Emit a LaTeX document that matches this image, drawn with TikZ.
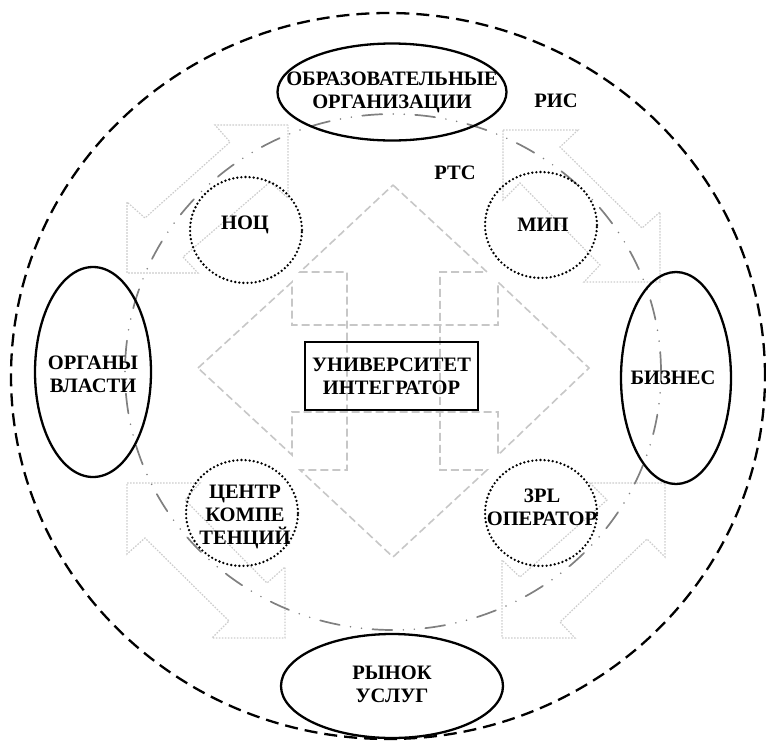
\documentclass[tikz,border=0pt]{standalone}
\usepackage{fontspec}
\setmainfont{Liberation Serif}
\usetikzlibrary{shapes.geometric}
\begin{document}
\begin{tikzpicture}[x=1pt,y=-1pt,
  lbl/.style={font=\bfseries\fontsize{20.5}{23}\selectfont, align=center, inner sep=0pt},
  actor/.style={draw, ellipse, line width=2.3pt, inner sep=0pt},
  unit/.style={draw, ellipse, line width=2.6pt, dash pattern=on 0pt off 4.1pt, line cap=round,
               inner sep=0pt, minimum width=112pt, minimum height=106pt},
  hub/.style={draw, line width=2.4pt, inner sep=0pt, minimum width=173pt, minimum height=68pt},
  outerzone/.style={draw, ellipse, line width=2.3pt, dash pattern=on 13pt off 7pt, inner sep=0pt},
  innerzone/.style={draw=black!50, ellipse, line width=1.7pt, line cap=round,
               dash pattern=on 20pt off 11pt on 0pt off 11pt on 0pt off 11pt, inner sep=0pt},
  crossarrow/.style={draw=black!22, line width=1.6pt, dash pattern=on 8pt off 4pt},
  diagarrow/.style={draw=black!20, line width=1.2pt, dash pattern=on 1.6pt off 1.4pt}
]
\useasboundingbox (0,0) rectangle (766,740);

% four-way arrow behind the hub: vertical and horizontal double arrows
\draw[crossarrow] (393,185) -- (487,272) -- (440,272) -- (440,470) -- (487,470) -- (393,557)
  -- (300,470) -- (347,470) -- (347,272) -- (300,272) -- cycle;
\draw[crossarrow] (198,368) -- (292,282) -- (292,325) -- (498,325) -- (498,282) -- (589,368)
  -- (498,455) -- (498,412) -- (292,412) -- (292,455) -- cycle;

% diagonal double arrows in the corners
\draw[diagarrow] (288,125) -- (215,125) -- (230,142) -- (145,218) -- (127,202) -- (127,273)
  -- (198,273) -- (183,257) -- (270,182) -- (288,198) -- cycle;
\draw[diagarrow] (503,130) -- (578,130) -- (560,147) -- (642,228) -- (660,212) -- (660,282)
  -- (584,282) -- (600,265) -- (520,183) -- (503,200) -- cycle;
\draw[diagarrow] (127,483) -- (200,483) -- (185,500) -- (267,583) -- (285,567) -- (285,638)
  -- (212,638) -- (229,621) -- (145,538) -- (127,554) -- cycle;
\draw[diagarrow] (665,483) -- (590,483) -- (607,500) -- (520,577) -- (502,560) -- (502,638)
  -- (575,638) -- (560,622) -- (647,539) -- (665,557) -- cycle;

% zones
\node[outerzone, minimum width=754pt, minimum height=726pt] (ris) at (388,376) {};
\node[innerzone, minimum width=536pt, minimum height=516pt] (rts) at (393,372) {};

% outer actors
\node[actor, minimum width=229pt, minimum height=97pt] (edu) at (392,92) {};
\node[actor, minimum width=116pt, minimum height=210pt] (gov) at (93,372) {};
\node[actor, minimum width=110pt, minimum height=212pt] (biz) at (676,378) {};
\node[actor, minimum width=222pt, minimum height=104pt] (mkt) at (392,686) {};

\node[lbl] (edut) at (392,92) {ОБРАЗОВАТЕЛЬНЫЕ\\ОРГАНИЗАЦИИ};
\node[lbl] (govt) at (93,374) {ОРГАНЫ\\ВЛАСТИ};
\node[lbl] (bizt) at (673,378) {БИЗНЕС};
\node[lbl] (mktt) at (392,684) {РЫНОК\\УСЛУГ};

% inner units
\node[unit] (noc) at (246,230) {};
\node[unit] (mip) at (541,225) {};
\node[unit] (cc) at (242,513) {};
\node[unit] (tpl) at (541,513) {};

\node[lbl] (noct) at (245,225) {НОЦ};
\node[lbl] (mipt) at (543,225) {МИП};
\node[lbl] (cct) at (245,517) {ЦЕНТР\\КОМПЕ\\ТЕНЦИЙ};
\node[lbl] (tplt) at (542,507) {3PL\\ОПЕРАТОР};

% hub
\node[hub] (uni) at (391.5,376) {};
\node[lbl] (unit) at (391.5,376.5) {УНИВЕРСИТЕТ\\ИНТЕГРАТОР};

% zone captions
\node[lbl] (rist) at (556,101) {РИС};
\node[lbl] (rtst) at (455,173) {РТС};
\end{tikzpicture}
\end{document}
